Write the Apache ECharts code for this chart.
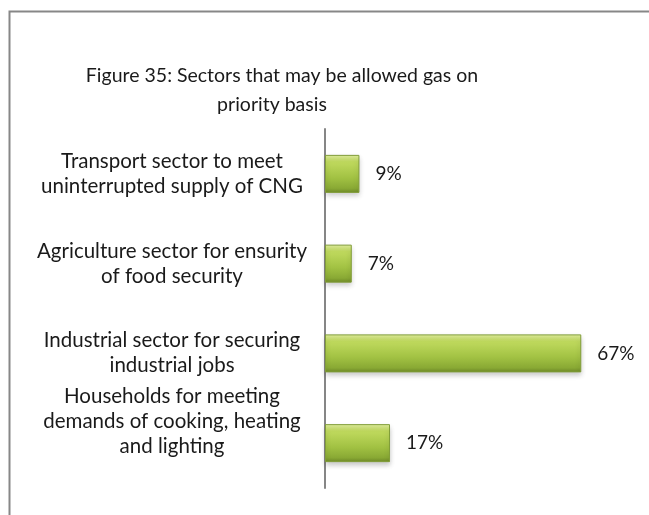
<!DOCTYPE html>
<html>
<head>
<meta charset="utf-8">
<script src="https://cdn.jsdelivr.net/npm/echarts@6/dist/echarts.min.js"></script>
<style>
html,body{margin:0;padding:0;background:#fff;}
#chart{width:649px;height:515px;}
</style>
</head>
<body>
<div id="chart"></div>
<script>
const titleLines = ["Figure 35: Sectors that may be allowed gas on", "priority basis"];
const categories = [
  "Transport sector to meet\nuninterrupted supply of CNG",
  "Agriculture sector for ensurity\nof food security",
  "Industrial sector for securing\nindustrial jobs",
  "Households for meeting\ndemands of cooking, heating\nand lighting"
];
const values = [9, 7, 67, 17];
const valueLabels = ["9%", "7%", "67%", "17%"];

const chart = echarts.init(document.getElementById('chart'), null, {renderer: 'canvas'});
const FONT = 'Lato';
const titleStyle = {fontFamily: FONT, fontSize: 19.5, fontWeight: 'normal', color: '#1a1a1a'};
chart.setOption({
  animation: false,
  backgroundColor: '#fff',
  graphic: [{
    type: 'rect',
    shape: {x: 9.5, y: 11.5, width: 660, height: 520},
    style: {fill: 'none', stroke: '#878787', lineWidth: 2},
    silent: true
  }],
  title: [
    {text: titleLines[0], left: 277, top: 61, textAlign: 'center', textStyle: titleStyle},
    {text: titleLines[1], left: 267, top: 90, textAlign: 'center', textStyle: titleStyle}
  ],
  grid: {left: 325, top: 129, width: 306, height: 359, containLabel: false},
  xAxis: {
    type: 'value', min: 0, max: 80, show: false,
    splitLine: {show: false}
  },
  yAxis: {
    type: 'category',
    data: categories,
    inverse: true,
    axisTick: {show: false},
    axisLine: {show: true, lineStyle: {color: '#868686', width: 2}},
    axisLabel: {
      fontFamily: FONT, fontSize: 20.5, color: '#1a1a1a', lineHeight: 25,
      align: 'center', margin: 153,
      formatter: (v, i) => i === 3 ? v + '\n{gap| }' : v,
      rich: {gap: {lineHeight: 44, fontSize: 2}}
    }
  },
  series: [{
    type: 'bar',
    data: values,
    barWidth: 38,
    itemStyle: {
      color: {
        type: 'linear', x: 0, y: 0, x2: 0, y2: 1,
        colorStops: [
          {offset: 0, color: '#e2f0a0'},
          {offset: 0.18, color: '#c0da5e'},
          {offset: 0.6, color: '#a2c243'},
          {offset: 0.88, color: '#89a934'},
          {offset: 1, color: '#6e8928'}
        ]
      },
      borderColor: '#819d38',
      borderWidth: 1,
      shadowColor: 'rgba(0,0,0,0.22)',
      shadowBlur: 5,
      shadowOffsetY: 3
    },
    label: {
      show: true, position: 'right', distance: 16,
      fontFamily: FONT, fontSize: 19, color: '#1a1a1a',
      formatter: p => valueLabels[p.dataIndex]
    }
  }]
});
</script>
</body>
</html>
